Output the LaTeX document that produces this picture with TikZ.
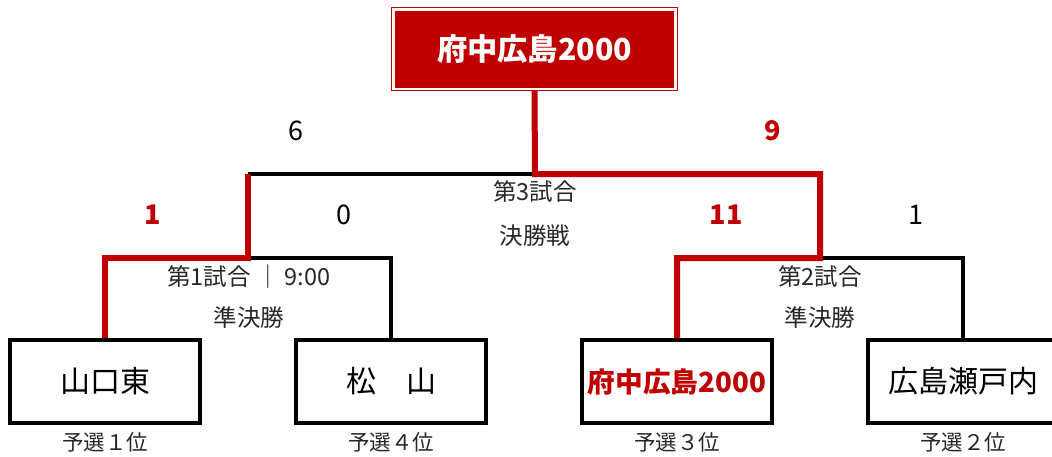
\documentclass[tikz,border=0pt]{standalone}
\usepackage{fontspec}
\setmainfont{Noto Sans CJK JP}
\definecolor{winred}{HTML}{C00000}
\begin{document}
\begin{tikzpicture}[x=1pt,y=-1pt,
  team/.style={draw=black,line width=3.3pt,minimum width=190pt,minimum height=83pt,inner sep=0pt,font=\fontsize{30}{33}\selectfont},
  bk/.style={draw=black,line width=3.3pt},
  rd/.style={draw=winred,line width=6pt},
  score/.style={font=\fontsize{27}{30}\selectfont},
  wscore/.style={font=\fontsize{27}{30}\selectfont\bfseries,text=winred},
  lbl/.style={font=\fontsize{23.5}{26}\selectfont,text=black!85},
  rank/.style={font=\fontsize{21.5}{24}\selectfont,text=black!85}]
\useasboundingbox (0,0) rectangle (1052,456);
% champion box
\node[draw=winred,line width=1pt,minimum width=286pt,minimum height=83pt,inner sep=0pt] (outer) at (534.5,48.5) {};
\node[fill=winred,minimum width=279pt,minimum height=77pt,inner sep=0pt,text=white,font=\fontsize{30.3}{33}\selectfont\bfseries] (champ) at (534.5,49) {府中広島2000};
% teams
\node[team] (t1) at (105,381.5) {山口東};
\node[team] (t2) at (391,381.5) {松　山};
\node[team,text=winred,font=\fontsize{27.7}{31}\selectfont\bfseries] (t3) at (677,381.5) {府中広島2000};
\node[team] (t4) at (963,381.5) {広島瀬戸内};
% coordinates
\coordinate (f) at (535,174);
\coordinate (s1) at (248,258);
\coordinate (s2) at (820,258);
% black lines
\draw[bk] (f) -- (s1 |- f);
\draw[bk] (s1) -| (t2.north);
\draw[bk] (s2) -| (t4.north);
% red lines
\draw[rd,line join=miter] (outer.south) -- (f) -| (s2) -| (t3.north);
\draw[rd,line join=miter] (s1 |- f) -- (s1) -| (t1.north);
% scores
\node[score] (sc6) at (296,131) {6};
\node[wscore] (sc9) at (773,131) {9};
\node[wscore] (sc1) at (153,215) {1};
\node[score] (sc0) at (344,215) {0};
\node[wscore] (sc11) at (726,215) {11};
\node[score] (sc1b) at (916,215) {1};
% match labels
\node[lbl] (m3a) at (535,192) {第3試合};
\node[lbl] (m3b) at (535,236) {決勝戦};
\node[lbl] (m1a) at (249,277) {第1試合 ｜ 9:00};
\node[lbl] (m1b) at (249,318) {準決勝};
\node[lbl] (m2a) at (820,277) {第2試合};
\node[lbl] (m2b) at (820,318) {準決勝};
% ranks
\node[rank] (r1) at (105,442) {予選１位};
\node[rank] (r2) at (391,442) {予選４位};
\node[rank] (r3) at (677,442) {予選３位};
\node[rank] (r4) at (963,442) {予選２位};
\end{tikzpicture}
\end{document}
